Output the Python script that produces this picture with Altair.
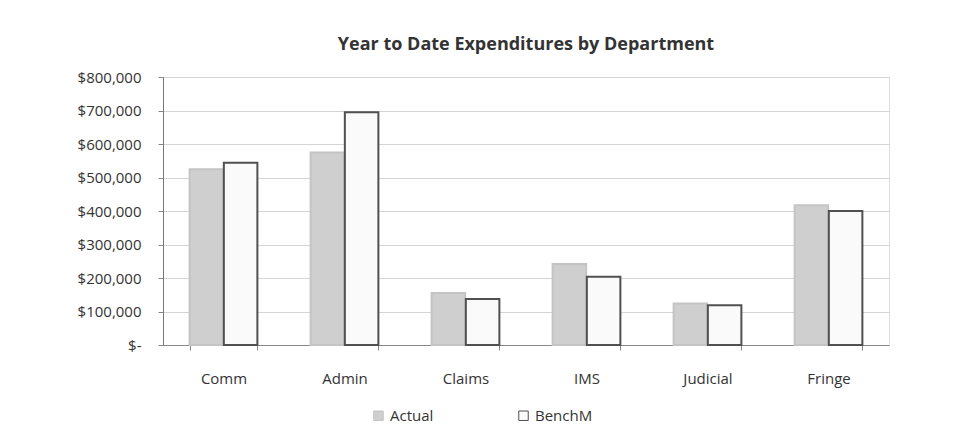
import altair as alt
import pandas as pd

departments = ["Comm", "Admin", "Claims", "IMS", "Judicial", "Fringe"]
actual = [525000, 575000, 155000, 242000, 124000, 417000]
benchm = [544000, 695000, 137000, 204000, 119000, 400000]
series = ["Actual", "BenchM"]

rows = []
for d, a, b in zip(departments, actual, benchm):
    rows.append({"Department": d, "Series": "Actual", "Value": a})
    rows.append({"Department": d, "Series": "BenchM", "Value": b})
df = pd.DataFrame(rows)

FONT = "Open Sans"
TXT = "#333333"

bars = alt.Chart(df).mark_bar(strokeWidth=2).encode(
    x=alt.X("Department:N", sort=departments, title=None,
            scale=alt.Scale(paddingInner=0.44, paddingOuter=0.22),
            axis=alt.Axis(labelAngle=0, labelFontSize=15, labelColor=TXT, labelFont=FONT,
                          labelPadding=21, tickBand="extent", tickSize=5, tickColor="#888",
                          domainColor="#888", grid=False)),
    xOffset=alt.XOffset("Series:N", sort=series, scale=alt.Scale(paddingInner=0.02)),
    y=alt.Y("Value:Q", title=None,
            scale=alt.Scale(domain=[0, 800000]),
            axis=alt.Axis(values=list(range(0, 800001, 100000)),
                          labelExpr="datum.value == 0 ? '$-' : format(datum.value, '$,')",
                          labelFontSize=15, labelColor=TXT, labelFont=FONT, labelPadding=17,
                          tickSize=5, tickColor="#888", domainColor="#777",
                          gridColor="#d4d4d4")),
    color=alt.Color("Series:N", sort=series,
                    scale=alt.Scale(domain=series, range=["#cfcfcf", "#fafafa"]),
                    legend=alt.Legend(title=None, orient="none", direction="horizontal",
                                      legendX=208, legendY=331, symbolType="square",
                                      symbolSize=90, labelFontSize=15, labelColor=TXT,
                                      labelFont=FONT, columnPadding=82,
                                      symbolStrokeWidth=1)),
    stroke=alt.Stroke("Series:N", sort=series,
                      scale=alt.Scale(domain=series, range=["#c4c4c4", "#505050"]),
                      legend=None),
)

chart = bars.properties(
    width=726, height=268,
    title=alt.TitleParams("Year to Date Expenditures by Department", fontSize=18,
                          font=FONT, fontWeight="bold", color="#333333", offset=16,
                          anchor="middle"),
    autosize=alt.AutoSizeParams(type="none"),
    padding={"left": 155, "top": 69, "right": 60, "bottom": 86},
).configure_view(stroke=None).configure(background="white")

chart.save("out.html", embed_options={"renderer": "svg", "actions": False})
